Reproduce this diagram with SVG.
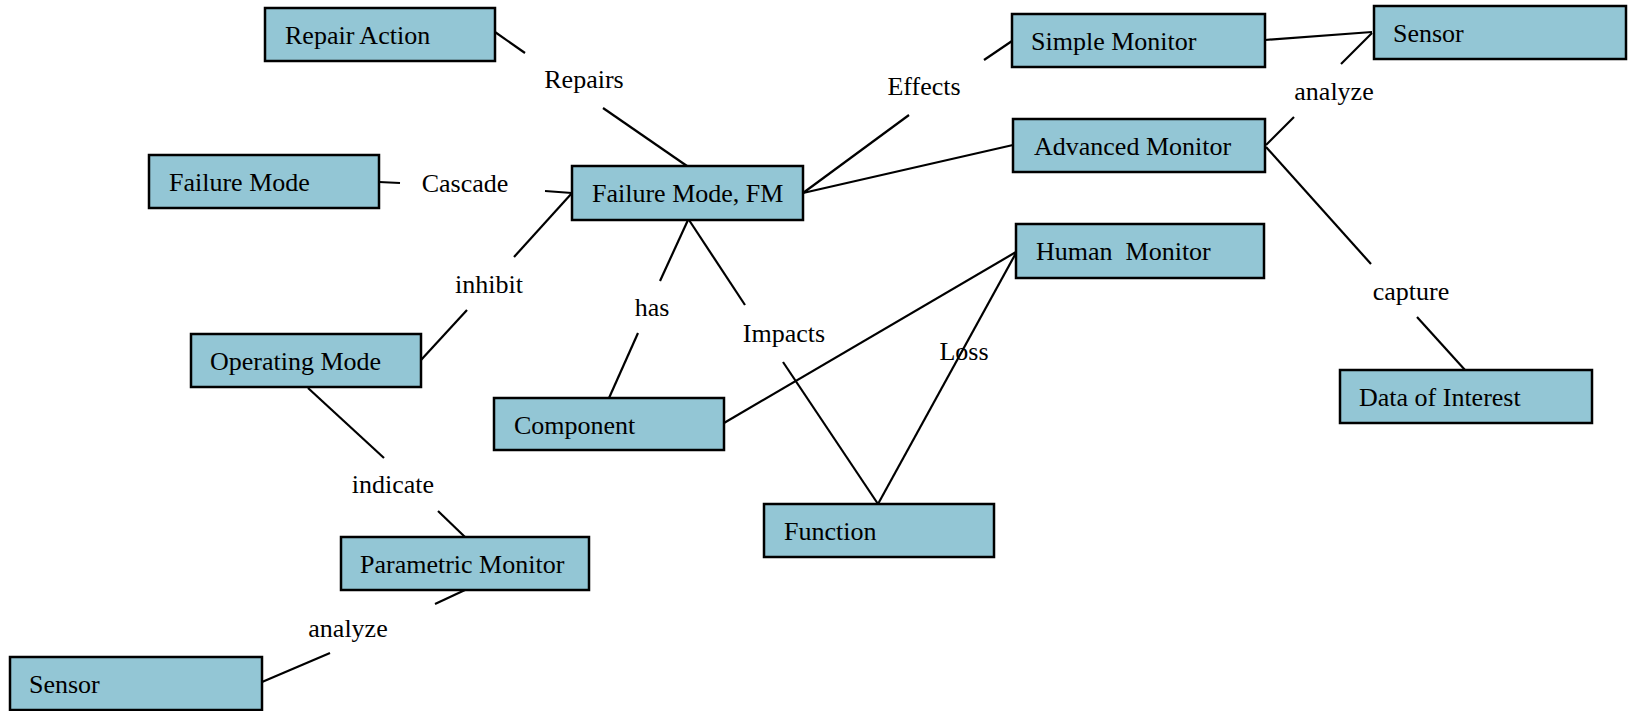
<svg xmlns="http://www.w3.org/2000/svg" width="1629" height="711" viewBox="0 0 1629 711">
  <style>
    .box { fill: #93C6D5; stroke: #000; stroke-width: 2.5; }
    .lbl { font-family: "Liberation Serif", "Times New Roman", serif; font-size: 26px; fill: #000; }
    .rel { font-family: "Liberation Serif", "Times New Roman", serif; font-size: 26px; fill: #000; text-anchor: middle; }
    .edge { stroke: #000; stroke-width: 2.2; fill: none; }
  </style>
  <rect width="1629" height="711" fill="#fff"/>

  <!-- connectors (split around their relation labels) -->
  <g id="connectors" class="edge">
    <line x1="495" y1="32" x2="525" y2="53"/>
    <line x1="603" y1="108" x2="687" y2="166"/>
    <line x1="379" y1="182" x2="400" y2="183"/>
    <line x1="545" y1="191" x2="572" y2="193"/>
    <line x1="421" y1="360" x2="467" y2="310"/>
    <line x1="514" y1="257" x2="572" y2="193"/>
    <line x1="688" y1="220" x2="660" y2="281"/>
    <line x1="638" y1="333" x2="609" y2="398"/>
    <line x1="689" y1="220" x2="745" y2="305"/>
    <line x1="783" y1="362" x2="878" y2="504"/>
    <line x1="803" y1="193" x2="909" y2="115"/>
    <line x1="984" y1="60" x2="1012" y2="41"/>
    <line x1="803" y1="193" x2="1013" y2="145"/>
    <line x1="1265" y1="40" x2="1372" y2="32"/>
    <line x1="1266" y1="145" x2="1294" y2="117"/>
    <line x1="1341" y1="64" x2="1372" y2="33"/>
    <line x1="1266" y1="147" x2="1371" y2="264"/>
    <line x1="1417" y1="317" x2="1465" y2="370"/>
    <line x1="724" y1="423" x2="1016" y2="252"/>
    <line x1="1016" y1="253" x2="878" y2="504"/>
    <line x1="308" y1="388" x2="384" y2="458"/>
    <line x1="438" y1="511" x2="465" y2="537"/>
    <line x1="465" y1="590" x2="435" y2="604"/>
    <line x1="330" y1="653" x2="262" y2="682"/>
  </g>

  <!-- relation labels -->
  <g id="relations">
    <text class="rel" x="584" y="88">Repairs</text>
    <text class="rel" x="465" y="192">Cascade</text>
    <text class="rel" x="924" y="95">Effects</text>
    <text class="rel" x="1334" y="100">analyze</text>
    <text class="rel" x="1411" y="300">capture</text>
    <text class="rel" x="784" y="342">Impacts</text>
    <text class="rel" x="964" y="360">Loss</text>
    <text class="rel" x="489" y="293">inhibit</text>
    <text class="rel" x="652" y="316">has</text>
    <text class="rel" x="393" y="493">indicate</text>
    <text class="rel" x="348" y="637">analyze</text>
  </g>

  <!-- nodes -->
  <g id="repair-action"><rect class="box" x="265" y="8" width="230" height="53"/><text class="lbl" x="285" y="44">Repair Action</text></g>
  <g id="failure-mode"><rect class="box" x="149" y="155" width="230" height="53"/><text class="lbl" x="169" y="191">Failure Mode</text></g>
  <g id="failure-mode-fm"><rect class="box" x="572" y="166" width="231" height="54"/><text class="lbl" x="592" y="202">Failure Mode, FM</text></g>
  <g id="simple-monitor"><rect class="box" x="1012" y="14" width="253" height="53"/><text class="lbl" x="1031" y="50">Simple Monitor</text></g>
  <g id="sensor-top"><rect class="box" x="1374" y="6" width="252" height="53"/><text class="lbl" x="1393" y="42">Sensor</text></g>
  <g id="advanced-monitor"><rect class="box" x="1013" y="119" width="252" height="53"/><text class="lbl" x="1034" y="155">Advanced Monitor</text></g>
  <g id="human-monitor"><rect class="box" x="1016" y="224" width="248" height="54"/><text class="lbl" x="1036" y="260" xml:space="preserve">Human  Monitor</text></g>
  <g id="data-of-interest"><rect class="box" x="1340" y="370" width="252" height="53"/><text class="lbl" x="1359" y="406">Data of Interest</text></g>
  <g id="operating-mode"><rect class="box" x="191" y="334" width="230" height="53"/><text class="lbl" x="210" y="370">Operating Mode</text></g>
  <g id="component"><rect class="box" x="494" y="398" width="230" height="52"/><text class="lbl" x="514" y="434">Component</text></g>
  <g id="function"><rect class="box" x="764" y="504" width="230" height="53"/><text class="lbl" x="784" y="540">Function</text></g>
  <g id="parametric-monitor"><rect class="box" x="341" y="537" width="248" height="53"/><text class="lbl" x="360" y="573">Parametric Monitor</text></g>
  <g id="sensor-bottom"><rect class="box" x="10" y="657" width="252" height="53"/><text class="lbl" x="29" y="693">Sensor</text></g>
</svg>
